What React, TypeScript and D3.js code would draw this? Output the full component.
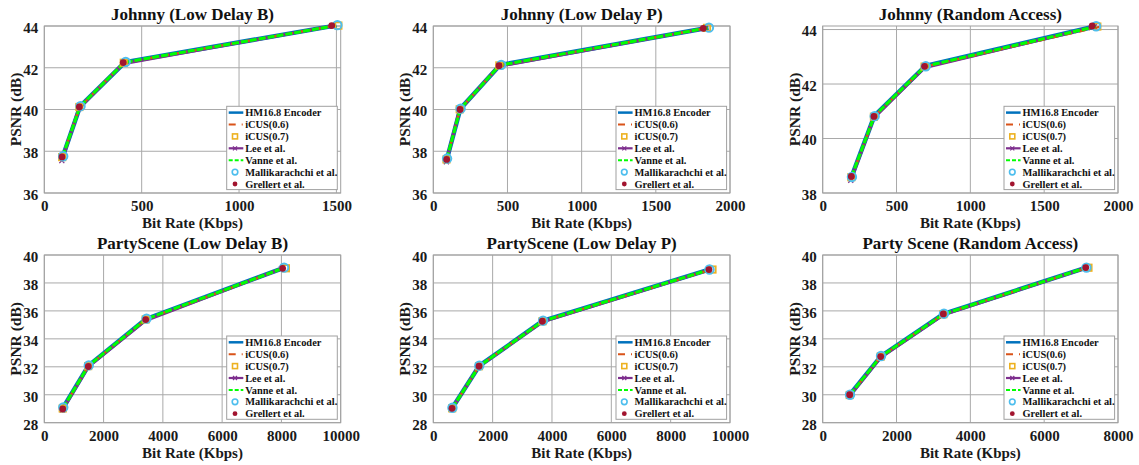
import React, { useEffect, useRef } from 'react';
import * as d3 from 'd3';

// ---------- DATA ----------
const seriesNames = [
  'HM16.8 Encoder',
  'iCUS(0.6)',
  'iCUS(0.7)',
  'Lee et al.',
  'Vanne et al.',
  'Mallikarachchi et al.',
  'Grellert et al.',
];

const panelTitles = [
  'Johnny (Low Delay B)',
  'Johnny (Low Delay P)',
  'Johnny (Random Access)',
  'PartyScene (Low Delay B)',
  'PartyScene (Low Delay P)',
  'Party Scene (Random Access)',
];

const xTicksJohnnyLDB = [0, 500, 1000, 1500];
const xTicksJohnny = [0, 500, 1000, 1500, 2000];
const xTicksParty = [0, 2000, 4000, 6000, 8000, 10000];
const xTicksPartyRA = [0, 2000, 4000, 6000, 8000];
const yTicksJohnny = [36, 38, 40, 42, 44];
const yTicksJohnnyRA = [38, 40, 42, 44];
const yTicksParty = [28, 30, 32, 34, 36, 38, 40];

const xLimits = [1522, 2000, 2000, 10000, 10000, 8000];
const yLimits: [number, number][] = [[36, 44], [36, 44], [38, 44.13], [28, 40], [28, 40], [28, 40]];

// Johnny, Low Delay B (rows: series in seriesNames order)
const johnnyLDBRate = [
  [95, 184, 415, 1500],
  [93, 182, 410, 1495],
  [92, 180, 408, 1510],
  [90, 178, 405, 1480],
  [94, 183, 412, 1498],
  [97, 186, 418, 1505],
  [91, 180, 405, 1476],
];
const johnnyLDBPsnr = [
  [37.75, 40.15, 42.27, 44.03],
  [37.74, 40.13, 42.25, 44.02],
  [37.72, 40.12, 42.24, 44.02],
  [37.55, 40.05, 42.2, 44.0],
  [37.74, 40.14, 42.26, 44.02],
  [37.76, 40.16, 42.28, 44.04],
  [37.73, 40.12, 42.25, 44.02],
];

// Johnny, Low Delay P
const johnnyLDPRate = [
  [92, 182, 450, 1855],
  [90, 180, 448, 1850],
  [89, 178, 445, 1845],
  [88, 176, 440, 1830],
  [91, 181, 447, 1852],
  [93, 184, 458, 1858],
  [90, 180, 443, 1820],
];
const johnnyLDPPsnr = [
  [37.63, 40.03, 42.13, 43.92],
  [37.62, 40.02, 42.12, 43.91],
  [37.61, 40.01, 42.11, 43.91],
  [37.5, 39.95, 42.07, 43.88],
  [37.62, 40.02, 42.12, 43.91],
  [37.65, 40.04, 42.14, 43.92],
  [37.61, 40.0, 42.1, 43.89],
];

// Johnny, Random Access
const johnnyRARate = [
  [196, 350, 695, 1850],
  [195, 348, 692, 1893],
  [194, 347, 690, 1860],
  [190, 345, 688, 1840],
  [195, 349, 693, 1848],
  [198, 352, 698, 1852],
  [194, 347, 690, 1825],
];
const johnnyRAPsnr = [
  [38.6, 40.83, 42.66, 44.12],
  [38.58, 40.81, 42.64, 44.12],
  [38.58, 40.8, 42.64, 44.11],
  [38.47, 40.75, 42.6, 44.1],
  [38.59, 40.82, 42.65, 44.11],
  [38.59, 40.82, 42.65, 44.12],
  [38.61, 40.81, 42.65, 44.13],
];

// PartyScene, Low Delay B
const partyLDBRate = [
  [630, 1490, 3430, 8080],
  [625, 1485, 3425, 8100],
  [622, 1480, 3420, 8150],
  [610, 1470, 3400, 8000],
  [628, 1488, 3428, 8070],
  [640, 1500, 3450, 8090],
  [620, 1485, 3420, 8040],
];
const partyLDBPsnr = [
  [29.05, 32.08, 35.42, 39.08],
  [29.03, 32.06, 35.4, 39.06],
  [29.02, 32.05, 35.39, 39.05],
  [28.9, 31.98, 35.3, 39.02],
  [29.04, 32.07, 35.41, 39.07],
  [29.1, 32.1, 35.45, 39.1],
  [28.98, 32.02, 35.38, 39.05],
];

// PartyScene, Low Delay P
const partyLDPRate = [
  [640, 1545, 3690, 9320],
  [638, 1542, 3685, 9380],
  [636, 1540, 3680, 9410],
  [620, 1525, 3660, 9280],
  [639, 1544, 3688, 9330],
  [645, 1550, 3700, 9310],
  [630, 1540, 3675, 9290],
];
const partyLDPPsnr = [
  [29.05, 32.06, 35.28, 38.97],
  [29.04, 32.05, 35.27, 38.96],
  [29.03, 32.04, 35.26, 38.96],
  [28.95, 32.0, 35.2, 38.93],
  [29.04, 32.05, 35.27, 38.97],
  [29.07, 32.08, 35.3, 38.96],
  [29.03, 32.04, 35.26, 38.96],
];

// Party Scene, Random Access
const partyRARate = [
  [735, 1575, 3275, 7140],
  [733, 1572, 3270, 7170],
  [731, 1570, 3268, 7200],
  [725, 1560, 3250, 7100],
  [734, 1574, 3273, 7130],
  [740, 1580, 3285, 7145],
  [731, 1571, 3268, 7126],
];
const partyRAPsnr = [
  [30.0, 32.75, 35.78, 39.1],
  [29.99, 32.74, 35.77, 39.09],
  [29.98, 32.73, 35.76, 39.09],
  [29.9, 32.65, 35.7, 39.05],
  [29.99, 32.74, 35.77, 39.09],
  [30.0, 32.77, 35.8, 39.1],
  [30.0, 32.73, 35.78, 39.1],
];

const panelRates = [johnnyLDBRate, johnnyLDPRate, johnnyRARate, partyLDBRate, partyLDPRate, partyRARate];
const panelPsnr = [johnnyLDBPsnr, johnnyLDPPsnr, johnnyRAPsnr, partyLDBPsnr, partyLDPPsnr, partyRAPsnr];
const panelXTicks = [xTicksJohnnyLDB, xTicksJohnny, xTicksJohnny, xTicksParty, xTicksParty, xTicksPartyRA];
const panelYTicks = [yTicksJohnny, yTicksJohnny, yTicksJohnnyRA, yTicksParty, yTicksParty, yTicksParty];

// ---------- LAYOUT / STYLE ----------
const W = 1139;
const H = 465;
const colLeft = [44.3, 433.3, 822.7];
const colRight = [340.7, 730, 1118];
const rowTop = [26, 255];
const rowBottom = [193, 422.7];
const FONT = '"Liberation Serif", "Times New Roman", serif';
const colors = ['#0072BD', '#D95319', '#EDB120', '#7E2F8E', '#00FF00', '#4DBEEE', '#A2142F'];
const gridColor = '#a9a9a9';

export default function App() {
  const ref = useRef<SVGSVGElement | null>(null);

  useEffect(() => {
    const svg = d3.select(ref.current);
    svg.selectAll('*').remove();
    svg.append('rect').attr('width', W).attr('height', H).attr('fill', '#fff');

    for (let p = 0; p < 6; p++) {
      const col = p % 3;
      const row = Math.floor(p / 3);
      const L = colLeft[col];
      const R = colRight[col];
      const T = rowTop[row];
      const B = rowBottom[row];
      const x = d3.scaleLinear().domain([0, xLimits[p]]).range([L, R]);
      const y = d3.scaleLinear().domain(yLimits[p]).range([B, T]);
      const g = svg.append('g');

      // grid
      panelXTicks[p].forEach((t) => {
        g.append('line').attr('x1', x(t)).attr('x2', x(t)).attr('y1', T).attr('y2', B)
          .attr('stroke', gridColor).attr('stroke-width', 1);
      });
      panelYTicks[p].forEach((t) => {
        g.append('line').attr('x1', L).attr('x2', R).attr('y1', y(t)).attr('y2', y(t))
          .attr('stroke', gridColor).attr('stroke-width', 1);
      });
      g.append('rect').attr('x', L).attr('y', T).attr('width', R - L).attr('height', B - T)
        .attr('fill', 'none').attr('stroke', '#a0a0a0').attr('stroke-width', 1);

      // axes tick labels via d3 axes
      const xAxis = d3.axisBottom(x).tickValues(panelXTicks[p]).tickSize(0).tickPadding(0).tickFormat(d3.format('d'));
      const xa = g.append('g').attr('transform', `translate(0,${B})`).call(xAxis);
      xa.select('.domain').remove();
      xa.selectAll('text').attr('y', 18).attr('dy', 0).attr('font-family', FONT).attr('font-weight', 'bold')
        .attr('font-size', 15).attr('fill', '#1a1a1a');
      const yAxis = d3.axisLeft(y).tickValues(panelYTicks[p]).tickSize(0).tickPadding(6).tickFormat(d3.format('d'));
      const ya = g.append('g').attr('transform', `translate(${L},0)`).call(yAxis);
      ya.select('.domain').remove();
      ya.selectAll('text').attr('dy', '0.42em').attr('font-family', FONT).attr('font-weight', 'bold')
        .attr('font-size', 15).attr('fill', '#1a1a1a');

      // title & labels
      g.append('text').attr('x', (L + R) / 2).attr('y', T - 6).attr('text-anchor', 'middle')
        .attr('font-family', FONT).attr('font-weight', 'bold').attr('font-size', 17).attr('fill', '#111')
        .text(panelTitles[p]);
      g.append('text').attr('x', (L + R) / 2).attr('y', B + 35).attr('text-anchor', 'middle')
        .attr('font-family', FONT).attr('font-weight', 'bold').attr('font-size', 15).attr('fill', '#1a1a1a')
        .text('Bit Rate (Kbps)');
      g.append('text').attr('transform', `translate(${L - 23},${(T + B) / 2}) rotate(-90)`)
        .attr('text-anchor', 'middle').attr('font-family', FONT).attr('font-weight', 'bold')
        .attr('font-size', 15.5).attr('fill', '#1a1a1a').text('PSNR (dB)');

      const rates = panelRates[p];
      const psnr = panelPsnr[p];
      const pts = (s: number) => rates[s].map((r, i) => [x(r), y(psnr[s][i])] as [number, number]);
      const line = d3.line<[number, number]>();

      // HM blue
      g.append('path').attr('d', line(pts(0))).attr('fill', 'none').attr('stroke', colors[0]).attr('stroke-width', 4.5)
        .attr('stroke-linejoin', 'round');
      // Lee purple
      g.append('path').attr('d', line(pts(3))).attr('fill', 'none').attr('stroke', colors[3]).attr('stroke-width', 3.2);
      pts(3).forEach(([px, py]) => {
        g.append('path').attr('d', `M${px - 2.5},${py - 2.5}L${px + 2.5},${py + 2.5}M${px - 2.5},${py + 2.5}L${px + 2.5},${py - 2.5}`)
          .attr('stroke', colors[3]).attr('stroke-width', 1.3);
      });
      // iCUS(0.6) orange dash-dot
      g.append('path').attr('d', line(pts(1))).attr('fill', 'none').attr('stroke', colors[1]).attr('stroke-width', 2.2)
        .attr('stroke-dasharray', '7 3 1 3');
      // Vanne green dashed
      g.append('path').attr('d', line(pts(4))).attr('fill', 'none').attr('stroke', colors[4]).attr('stroke-width', 3)
        .attr('stroke-dasharray', '7 2');
      // iCUS(0.7) squares
      pts(2).forEach(([px, py]) => {
        g.append('rect').attr('x', px - 3.2).attr('y', py - 3.2).attr('width', 6.4).attr('height', 6.4)
          .attr('fill', 'none').attr('stroke', colors[2]).attr('stroke-width', 1.8);
      });
      // Mallikarachchi circles
      pts(5).forEach(([px, py]) => {
        g.append('circle').attr('cx', px).attr('cy', py).attr('r', 4.2)
          .attr('fill', 'none').attr('stroke', colors[5]).attr('stroke-width', 2);
      });
      // Grellert dots
      pts(6).forEach(([px, py]) => {
        g.append('circle').attr('cx', px).attr('cy', py).attr('r', 3.4).attr('fill', colors[6]);
      });

      // legend
      const lw = 110.6;
      const lh = 83.3;
      const lx = R - 3.4 - lw;
      const ly = B - 3.4 - lh;
      const lg = g.append('g');
      lg.append('rect').attr('x', lx).attr('y', ly).attr('width', lw).attr('height', lh)
        .attr('fill', '#fff').attr('stroke', '#a0a0a0').attr('stroke-width', 1);
      seriesNames.forEach((name, i) => {
        const cy = ly + 6.3 + i * 11.9;
        const x0 = lx + 2;
        const x1 = lx + 16.6;
        const mx = lx + 8.3;
        if (i === 0) {
          lg.append('line').attr('x1', x0).attr('x2', x1).attr('y1', cy).attr('y2', cy).attr('stroke', colors[0]).attr('stroke-width', 2.5);
        } else if (i === 1) {
          lg.append('line').attr('x1', x0).attr('x2', x1).attr('y1', cy).attr('y2', cy).attr('stroke', colors[1]).attr('stroke-width', 2)
            .attr('stroke-dasharray', '7 6 1 3');
        } else if (i === 2) {
          lg.append('rect').attr('x', mx - 2.5).attr('y', cy - 2.5).attr('width', 5).attr('height', 5)
            .attr('fill', 'none').attr('stroke', colors[2]).attr('stroke-width', 1.6);
        } else if (i === 3) {
          lg.append('line').attr('x1', x0).attr('x2', x1).attr('y1', cy).attr('y2', cy).attr('stroke', colors[3]).attr('stroke-width', 2.2);
          lg.append('path').attr('d', `M${mx - 2},${cy - 2}L${mx + 2},${cy + 2}M${mx - 2},${cy + 2}L${mx + 2},${cy - 2}`)
            .attr('stroke', colors[3]).attr('stroke-width', 1.2);
        } else if (i === 4) {
          lg.append('line').attr('x1', x0).attr('x2', x1).attr('y1', cy).attr('y2', cy).attr('stroke', colors[4]).attr('stroke-width', 2)
            .attr('stroke-dasharray', '4 2');
        } else if (i === 5) {
          lg.append('circle').attr('cx', mx).attr('cy', cy).attr('r', 2.8).attr('fill', 'none')
            .attr('stroke', colors[5]).attr('stroke-width', 1.6);
        } else {
          lg.append('circle').attr('cx', mx).attr('cy', cy).attr('r', 2.4).attr('fill', colors[6]);
        }
        lg.append('text').attr('x', lx + 18.5).attr('y', cy).attr('dy', '0.35em')
          .attr('font-family', FONT).attr('font-weight', 'bold').attr('font-size', 10.4).attr('fill', '#111')
          .text(name);
      });
    }
  }, []);

  return (
    <svg
      ref={ref}
      width={W}
      height={H}
      style={{ position: 'absolute', left: 0, top: 0, display: 'block' }}
    />
  );
}
